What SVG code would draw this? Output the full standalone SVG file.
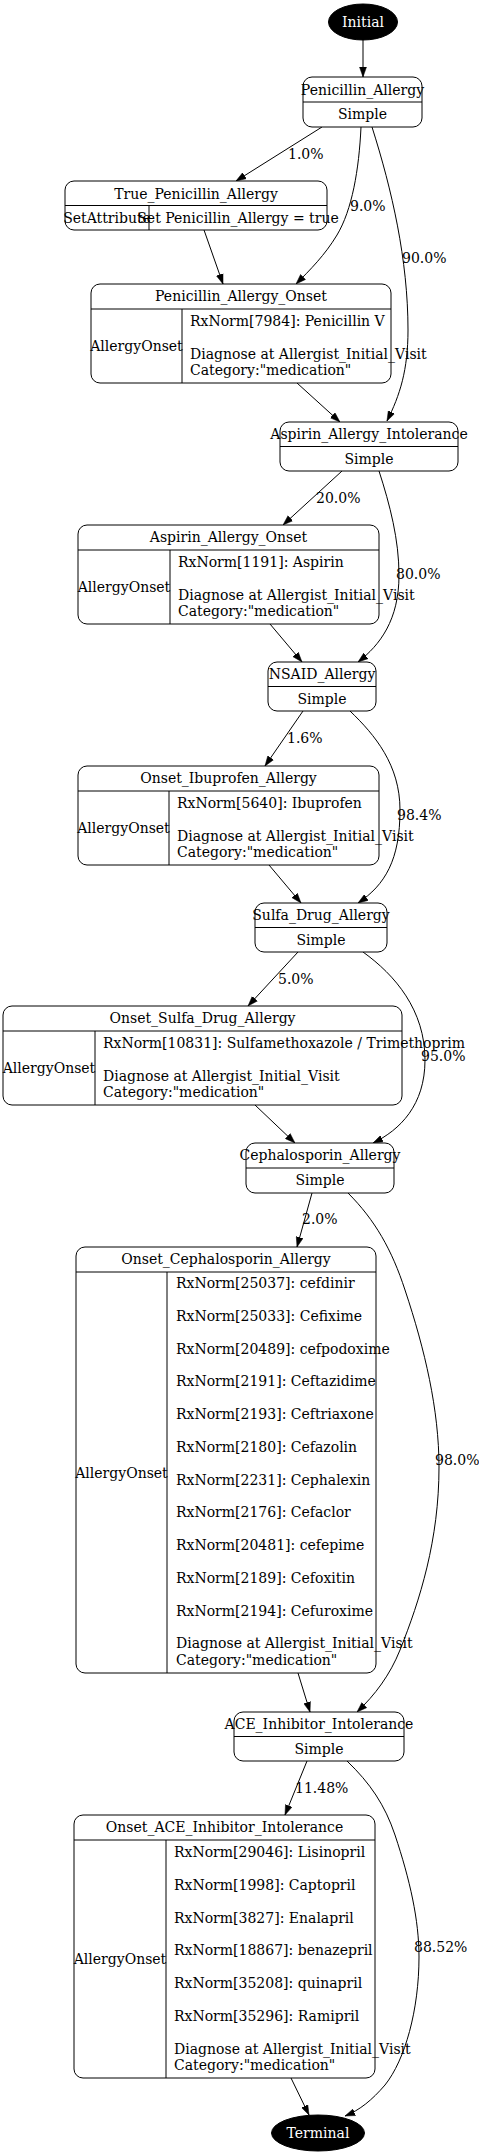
<svg xmlns="http://www.w3.org/2000/svg" width="479" height="2156" viewBox="0 0 479 2156">
<style>
text{font-family:"DejaVu Serif","Liberation Serif",serif;font-size:14px;fill:#000}
.m{text-anchor:middle}
.w{fill:#fff}
.box{fill:#fff;stroke:#000;stroke-width:1}
.div{stroke:#000;stroke-width:1}
.e{fill:none;stroke:#000;stroke-width:1;marker-end:url(#arr)}
</style>
<defs>
<marker id="arr" markerUnits="userSpaceOnUse" markerWidth="10" markerHeight="8" viewBox="0 0 10 8" refX="10" refY="4" orient="auto">
<path d="M0,0.5 L10,4 L0,7.5 z" fill="#000" stroke="#000" stroke-width="0.5"/>
</marker>
</defs>
<rect width="479" height="2156" fill="#fff"/>

<g id="connectors">
<path class="e" d="M363,40 L363,77"/>
<path class="e" d="M322,127 L236,181"/>
<path class="e" d="M361,127 C359,170 352,210 337,235 C325,255 310,270 296,284"/>
<path class="e" d="M372,127 C392,190 408,260 408,330 C408,370 400,395 387,421"/>
<path class="e" d="M204,230 L223,284"/>
<path class="e" d="M297,383 L340,422"/>
<path class="e" d="M342,471 L283,525"/>
<path class="e" d="M379,471 C390,505 399,540 399,575 C399,620 380,645 358,662"/>
<path class="e" d="M270,624 L302,662"/>
<path class="e" d="M303,711 L265,766"/>
<path class="e" d="M350,711 C375,735 400,765 400,810 C400,860 385,885 358,903"/>
<path class="e" d="M269,865 L301,903"/>
<path class="e" d="M298,952 L248,1006"/>
<path class="e" d="M363,952 C395,975 425,1010 425,1060 C425,1105 400,1130 373,1143"/>
<path class="e" d="M255,1105 L295,1143"/>
<path class="e" d="M312,1193 L297,1247"/>
<path class="e" d="M348,1193 C375,1220 392,1250 405,1290 C425,1350 439,1410 439,1467 C439,1540 420,1600 400,1650 C390,1675 375,1695 357,1712"/>
<path class="e" d="M298,1673 L310,1712"/>
<path class="e" d="M307,1761 L285,1815"/>
<path class="e" d="M347,1761 C370,1783 385,1805 395,1835 C410,1880 419,1920 419,1957 C419,2010 405,2060 385,2085 C372,2100 360,2110 345,2116"/>
<path class="e" d="M291,2078 L309,2115"/>
<g id="edge-labels">
<text x="288" y="159">1.0%</text>
<text x="350" y="211">9.0%</text>
<text x="402" y="263">90.0%</text>
<text x="316" y="503">20.0%</text>
<text x="396" y="579">80.0%</text>
<text x="287" y="743">1.6%</text>
<text x="397" y="820">98.4%</text>
<text x="278" y="984">5.0%</text>
<text x="421" y="1061">95.0%</text>
<text x="302" y="1224">2.0%</text>
<text x="435" y="1465">98.0%</text>
<text x="295" y="1793">11.48%</text>
<text x="414" y="1952">88.52%</text>
</g>
</g>

<g id="Initial">
<ellipse cx="363" cy="22" rx="34.5" ry="18" fill="#000" stroke="#000"/>
<text class="m w" x="363" y="27">Initial</text>
</g>

<g id="Penicillin_Allergy">
<rect class="box" x="303" y="77" width="119" height="50" rx="9"/>
<line class="div" x1="303" y1="102" x2="422" y2="102"/>
<text class="m" x="362.5" y="94.5">Penicillin_Allergy</text>
<text class="m" x="362.5" y="119.3">Simple</text>
</g>

<g id="True_Penicillin_Allergy">
<rect class="box" x="65" y="181" width="262" height="49" rx="9"/>
<line class="div" x1="65" y1="205.5" x2="327" y2="205.5"/>
<line class="div" x1="149" y1="205.5" x2="149" y2="230"/>
<text class="m" x="196" y="198.5">True_Penicillin_Allergy</text>
<text class="m" x="107" y="222.5">SetAttribute</text>
<text class="m" x="238" y="222.5">Set Penicillin_Allergy = true</text>
</g>

<g id="Penicillin_Allergy_Onset">
<rect class="box" x="91" y="284" width="300" height="99" rx="9"/>
<line class="div" x1="91" y1="309" x2="391" y2="309"/>
<line class="div" x1="182" y1="309" x2="182" y2="383"/>
<text class="m" x="241" y="301.3">Penicillin_Allergy_Onset</text>
<text class="m" x="136.5" y="351">AllergyOnset</text>
<text x="190" y="326">RxNorm[7984]: Penicillin V</text>
<text x="190" y="358.8">Diagnose at Allergist_Initial_Visit</text>
<text x="190" y="375.2">Category:"medication"</text>
</g>

<g id="Aspirin_Allergy_Intolerance">
<rect class="box" x="280" y="422" width="178" height="49" rx="9"/>
<line class="div" x1="280" y1="446.5" x2="458" y2="446.5"/>
<text class="m" x="369" y="439">Aspirin_Allergy_Intolerance</text>
<text class="m" x="369" y="463.5">Simple</text>
</g>

<g id="Aspirin_Allergy_Onset">
<rect class="box" x="78" y="525" width="301" height="99" rx="9"/>
<line class="div" x1="78" y1="550" x2="379" y2="550"/>
<line class="div" x1="170" y1="550" x2="170" y2="624"/>
<text class="m" x="228.5" y="542">Aspirin_Allergy_Onset</text>
<text class="m" x="124" y="592">AllergyOnset</text>
<text x="178" y="566.7">RxNorm[1191]: Aspirin</text>
<text x="178" y="599.5">Diagnose at Allergist_Initial_Visit</text>
<text x="178" y="615.9">Category:"medication"</text>
</g>

<g id="NSAID_Allergy">
<rect class="box" x="268" y="662" width="108" height="49" rx="9"/>
<line class="div" x1="268" y1="686.5" x2="376" y2="686.5"/>
<text class="m" x="322" y="679">NSAID_Allergy</text>
<text class="m" x="322" y="703.5">Simple</text>
</g>

<g id="Onset_Ibuprofen_Allergy">
<rect class="box" x="78" y="766" width="301" height="99" rx="9"/>
<line class="div" x1="78" y1="791" x2="379" y2="791"/>
<line class="div" x1="169" y1="791" x2="169" y2="865"/>
<text class="m" x="228.5" y="783">Onset_Ibuprofen_Allergy</text>
<text class="m" x="123.5" y="833">AllergyOnset</text>
<text x="177" y="807.7">RxNorm[5640]: Ibuprofen</text>
<text x="177" y="840.5">Diagnose at Allergist_Initial_Visit</text>
<text x="177" y="856.9">Category:"medication"</text>
</g>

<g id="Sulfa_Drug_Allergy">
<rect class="box" x="255" y="903" width="132" height="49" rx="9"/>
<line class="div" x1="255" y1="927.5" x2="387" y2="927.5"/>
<text class="m" x="321" y="920">Sulfa_Drug_Allergy</text>
<text class="m" x="321" y="944.5">Simple</text>
</g>

<g id="Onset_Sulfa_Drug_Allergy">
<rect class="box" x="3" y="1006" width="399" height="99" rx="9"/>
<line class="div" x1="3" y1="1031" x2="402" y2="1031"/>
<line class="div" x1="95" y1="1031" x2="95" y2="1105"/>
<text class="m" x="202.5" y="1023">Onset_Sulfa_Drug_Allergy</text>
<text class="m" x="49" y="1073">AllergyOnset</text>
<text x="103" y="1047.7">RxNorm[10831]: Sulfamethoxazole / Trimethoprim</text>
<text x="103" y="1080.5">Diagnose at Allergist_Initial_Visit</text>
<text x="103" y="1096.9">Category:"medication"</text>
</g>

<g id="Cephalosporin_Allergy">
<rect class="box" x="246" y="1143" width="148" height="50" rx="9"/>
<line class="div" x1="246" y1="1168" x2="394" y2="1168"/>
<text class="m" x="320" y="1159.5">Cephalosporin_Allergy</text>
<text class="m" x="320" y="1184.5">Simple</text>
</g>

<g id="Onset_Cephalosporin_Allergy">
<rect class="box" x="76" y="1247" width="300" height="426" rx="9"/>
<line class="div" x1="76" y1="1272" x2="376" y2="1272"/>
<line class="div" x1="167" y1="1272" x2="167" y2="1673"/>
<text class="m" x="226" y="1264">Onset_Cephalosporin_Allergy</text>
<text class="m" x="121.5" y="1477.5">AllergyOnset</text>
<text x="176" y="1288">RxNorm[25037]: cefdinir</text>
<text x="176" y="1320.75">RxNorm[25033]: Cefixime</text>
<text x="176" y="1353.5">RxNorm[20489]: cefpodoxime</text>
<text x="176" y="1386.25">RxNorm[2191]: Ceftazidime</text>
<text x="176" y="1419">RxNorm[2193]: Ceftriaxone</text>
<text x="176" y="1451.75">RxNorm[2180]: Cefazolin</text>
<text x="176" y="1484.5">RxNorm[2231]: Cephalexin</text>
<text x="176" y="1517.25">RxNorm[2176]: Cefaclor</text>
<text x="176" y="1550">RxNorm[20481]: cefepime</text>
<text x="176" y="1582.75">RxNorm[2189]: Cefoxitin</text>
<text x="176" y="1615.5">RxNorm[2194]: Cefuroxime</text>
<text x="176" y="1648.25">Diagnose at Allergist_Initial_Visit</text>
<text x="176" y="1664.6">Category:"medication"</text>
</g>

<g id="ACE_Inhibitor_Intolerance">
<rect class="box" x="234" y="1712" width="170" height="49" rx="9"/>
<line class="div" x1="234" y1="1736.5" x2="404" y2="1736.5"/>
<text class="m" x="319" y="1729">ACE_Inhibitor_Intolerance</text>
<text class="m" x="319" y="1753.5">Simple</text>
</g>

<g id="Onset_ACE_Inhibitor_Intolerance">
<rect class="box" x="74" y="1815" width="301" height="263" rx="9"/>
<line class="div" x1="74" y1="1840" x2="375" y2="1840"/>
<line class="div" x1="166" y1="1840" x2="166" y2="2078"/>
<text class="m" x="224.5" y="1832">Onset_ACE_Inhibitor_Intolerance</text>
<text class="m" x="120" y="1964">AllergyOnset</text>
<text x="174" y="1857">RxNorm[29046]: Lisinopril</text>
<text x="174" y="1889.75">RxNorm[1998]: Captopril</text>
<text x="174" y="1922.5">RxNorm[3827]: Enalapril</text>
<text x="174" y="1955.25">RxNorm[18867]: benazepril</text>
<text x="174" y="1988">RxNorm[35208]: quinapril</text>
<text x="174" y="2020.75">RxNorm[35296]: Ramipril</text>
<text x="174" y="2053.5">Diagnose at Allergist_Initial_Visit</text>
<text x="174" y="2069.9">Category:"medication"</text>
</g>

<g id="Terminal">
<ellipse cx="318" cy="2133" rx="46.5" ry="18" fill="#000" stroke="#000"/>
<text class="m w" x="318" y="2138">Terminal</text>
</g>
</svg>
